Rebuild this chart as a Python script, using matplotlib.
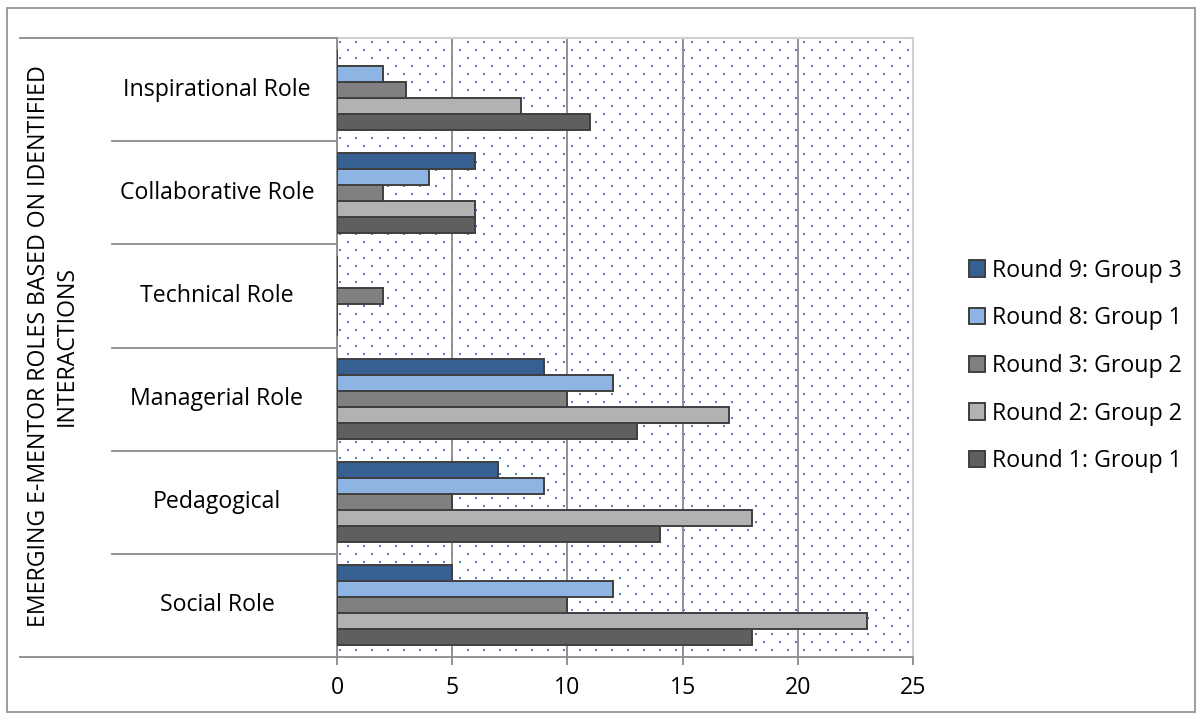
import numpy as np
import matplotlib.pyplot as plt
import matplotlib.transforms as mtransforms
from matplotlib.patches import Rectangle

plt.rcParams['font.family'] = ['Open Sans', 'DejaVu Sans']

# categories, bottom to top
roles = ['Social Role', 'Pedagogical', 'Managerial Role', 'Technical Role',
         'Collaborative Role', 'Inspirational Role']

# series, drawn bottom to top inside each category
round1_g1 = [18, 14, 13, 0, 6, 11]
round2_g2 = [23, 18, 17, 0, 6, 8]
round3_g2 = [10, 5, 10, 2, 2, 3]
round8_g1 = [12, 9, 12, 0, 4, 2]
round9_g3 = [5, 7, 9, 0, 6, 0]

series_names = ['Round 1: Group 1', 'Round 2: Group 2', 'Round 3: Group 2',
                'Round 8: Group 1', 'Round 9: Group 3']
series_vals = [round1_g1, round2_g2, round3_g2, round8_g1, round9_g3]
colors = ['#5f5f5f', '#b2b2b2', '#808080', '#8eb4e3', '#366092']

xticks = [0, 5, 10, 15, 20, 25]
fs = 16.7

W, H = 1203, 720
fig = plt.figure(figsize=(W / 100, H / 100), dpi=100)

# outer chart border
fig.patches.append(Rectangle((7 / W, 8 / H), (1195 - 7) / W, (712 - 8) / H,
                             transform=fig.transFigure, fill=False,
                             edgecolor='#8c8c8c', linewidth=1.2))

x0, x1, ytop, ybot = 337, 913, 38, 657
ax = fig.add_axes([x0 / W, 1 - ybot / H, (x1 - x0) / W, (ybot - ytop) / H])
ax.set_xlim(0, 25)
ax.set_ylim(-0.5, len(roles) - 0.5)

# dotted plot-area fill
axw, axh = x1 - x0, ybot - ytop
dx, dy = 16, 8
pts = []
for r, yy in enumerate(np.arange(4, axh, dy)):
    off = 0 if r % 2 == 0 else dx / 2
    for xx in np.arange(3 + off, axw, dx):
        pts.append((xx / axw, 1 - yy / axh))
pts = np.array(pts)
ax.scatter(pts[:, 0], pts[:, 1], s=2.6, marker='s', color='#4f81bd',
           linewidths=0, transform=ax.transAxes, zorder=0.5)

ax.grid(axis='x', color='#8a8a8a', linewidth=1.3, zorder=1)
ax.set_axisbelow(True)

bh = 0.155
y = np.arange(len(roles))
for i, (name, vals, c) in enumerate(zip(series_names, series_vals, colors)):
    pos = y - 2 * bh + i * bh
    ax.barh(pos, vals, height=bh, color=c, edgecolor='#3f3f3f',
            linewidth=1.4, label=name, zorder=3)

for s in ['top', 'right']:
    ax.spines[s].set_color('#d0d0d0')
    ax.spines[s].set_linewidth(1.5)
ax.spines['bottom'].set_color('#8a8a8a')
ax.spines['left'].set_color('#8a8a8a')
ax.spines['bottom'].set_linewidth(1.3)
ax.spines['left'].set_linewidth(1.3)

ax.set_xticks(xticks)
ax.set_xticklabels([str(t) for t in xticks], fontsize=fs)
ax.tick_params(axis='x', length=6, color='#8a8a8a', width=1.3, pad=8)
ax.set_yticks([])

# category labels and separators on the left
tr = mtransforms.blended_transform_factory(ax.transAxes, ax.transData)
for k, role in enumerate(roles):
    ax.text((217 - x0) / axw, k, role, transform=tr, ha='center', va='center',
            fontsize=fs)
for b in np.arange(-0.5, len(roles), 1.0):
    left = 20 if b in (-0.5, len(roles) - 0.5) else 112
    ax.plot([(left - x0) / axw, 0], [b, b], transform=tr, color='#8a8a8a',
            linewidth=1.3, clip_on=False, zorder=4)

fig.text(53 / W, 1 - 346 / H,
         'EMERGING E-MENTOR ROLES BASED ON IDENTIFIED\nINTERACTIONS',
         rotation=90, ha='center', va='center', fontsize=fs,
         multialignment='center', linespacing=1.2)

handles, labels = ax.get_legend_handles_labels()
fig.legend(handles[::-1], labels[::-1], loc='center left',
           bbox_to_anchor=(969 / W, 1 - 366 / H), frameon=False,
           fontsize=fs, handlelength=0.7, handleheight=0.7,
           handletextpad=0.3, labelspacing=1.02, borderpad=0,
           borderaxespad=0)

fig.savefig('out.png', dpi=100)
